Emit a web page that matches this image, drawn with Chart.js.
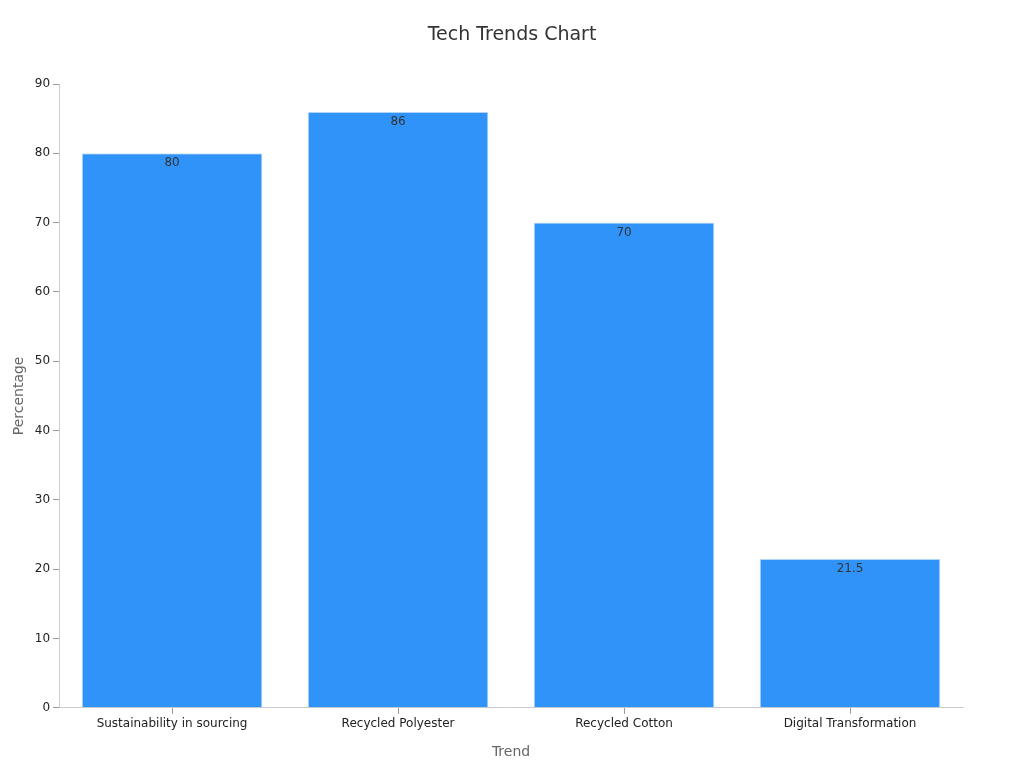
<!DOCTYPE html>
<html><head><meta charset="utf-8">
<script src="https://cdn.jsdelivr.net/npm/chart.js@4"></script>
<style>html,body{margin:0;padding:0;background:#fff}#wrap{width:1024px;height:768px}</style>
</head><body><div id="wrap"><canvas id="c"></canvas></div>
<script>
const categories = ["Sustainability in sourcing", "Recycled Polyester", "Recycled Cotton", "Digital Transformation"];
const values = [80, 86, 70, 21.5];
const yTicks = [0, 10, 20, 30, 40, 50, 60, 70, 80, 90];
const titleText = 'Tech Trends Chart';

Chart.defaults.font.family = "'DejaVu Sans', sans-serif";
const labelPlugin = {
  id: 'vals',
  afterDatasetsDraw(chart) {
    const ctx = chart.ctx;
    const meta = chart.getDatasetMeta(0);
    ctx.save();
    ctx.font = "12px 'DejaVu Sans'";
    ctx.fillStyle = '#333';
    ctx.textAlign = 'center';
    ctx.textBaseline = 'middle';
    meta.data.forEach((bar, i) => {
      ctx.fillText(String(values[i]), bar.x, bar.y + 10);
    });
    ctx.font = "19px 'DejaVu Sans'";
    ctx.fillText(titleText, chart.width / 2, 35);
    ctx.restore();
  }
};
new Chart(document.getElementById('c'), {
  type: 'bar',
  data: { labels: categories, datasets: [{ data: values, backgroundColor: '#2f93fa', borderColor: '#d0e4f7', borderWidth: 1, barPercentage: 0.8, categoryPercentage: 1 }] },
  options: {
    responsive: true, maintainAspectRatio: false, animation: false,
    layout: { padding: { left: 7, right: 61, top: 84, bottom: 3 } },
    plugins: { legend: { display: false }, tooltip: { enabled: false }, title: { display: false } },
    scales: {
      x: { grid: { display: true, offset: false, drawOnChartArea: false, drawTicks: true, tickLength: 6, tickColor: '#999' }, border: { color: '#ccc' },
           ticks: { color: '#222', font: { size: 12 } },
           title: { display: true, text: 'Trend', color: '#666', font: { size: 14 }, padding: { top: 10 } } },
      y: { min: 0, max: 90, afterBuildTicks(s) { s.ticks = yTicks.map(v => ({ value: v })); },
           grid: { display: true, drawOnChartArea: false, tickLength: 6, tickColor: '#999' }, border: { color: '#ccc' },
           ticks: { color: '#222', font: { size: 12 } },
           title: { display: true, text: 'Percentage', color: '#666', font: { size: 14 } } }
    }
  },
  plugins: [labelPlugin]
});
</script></body></html>
